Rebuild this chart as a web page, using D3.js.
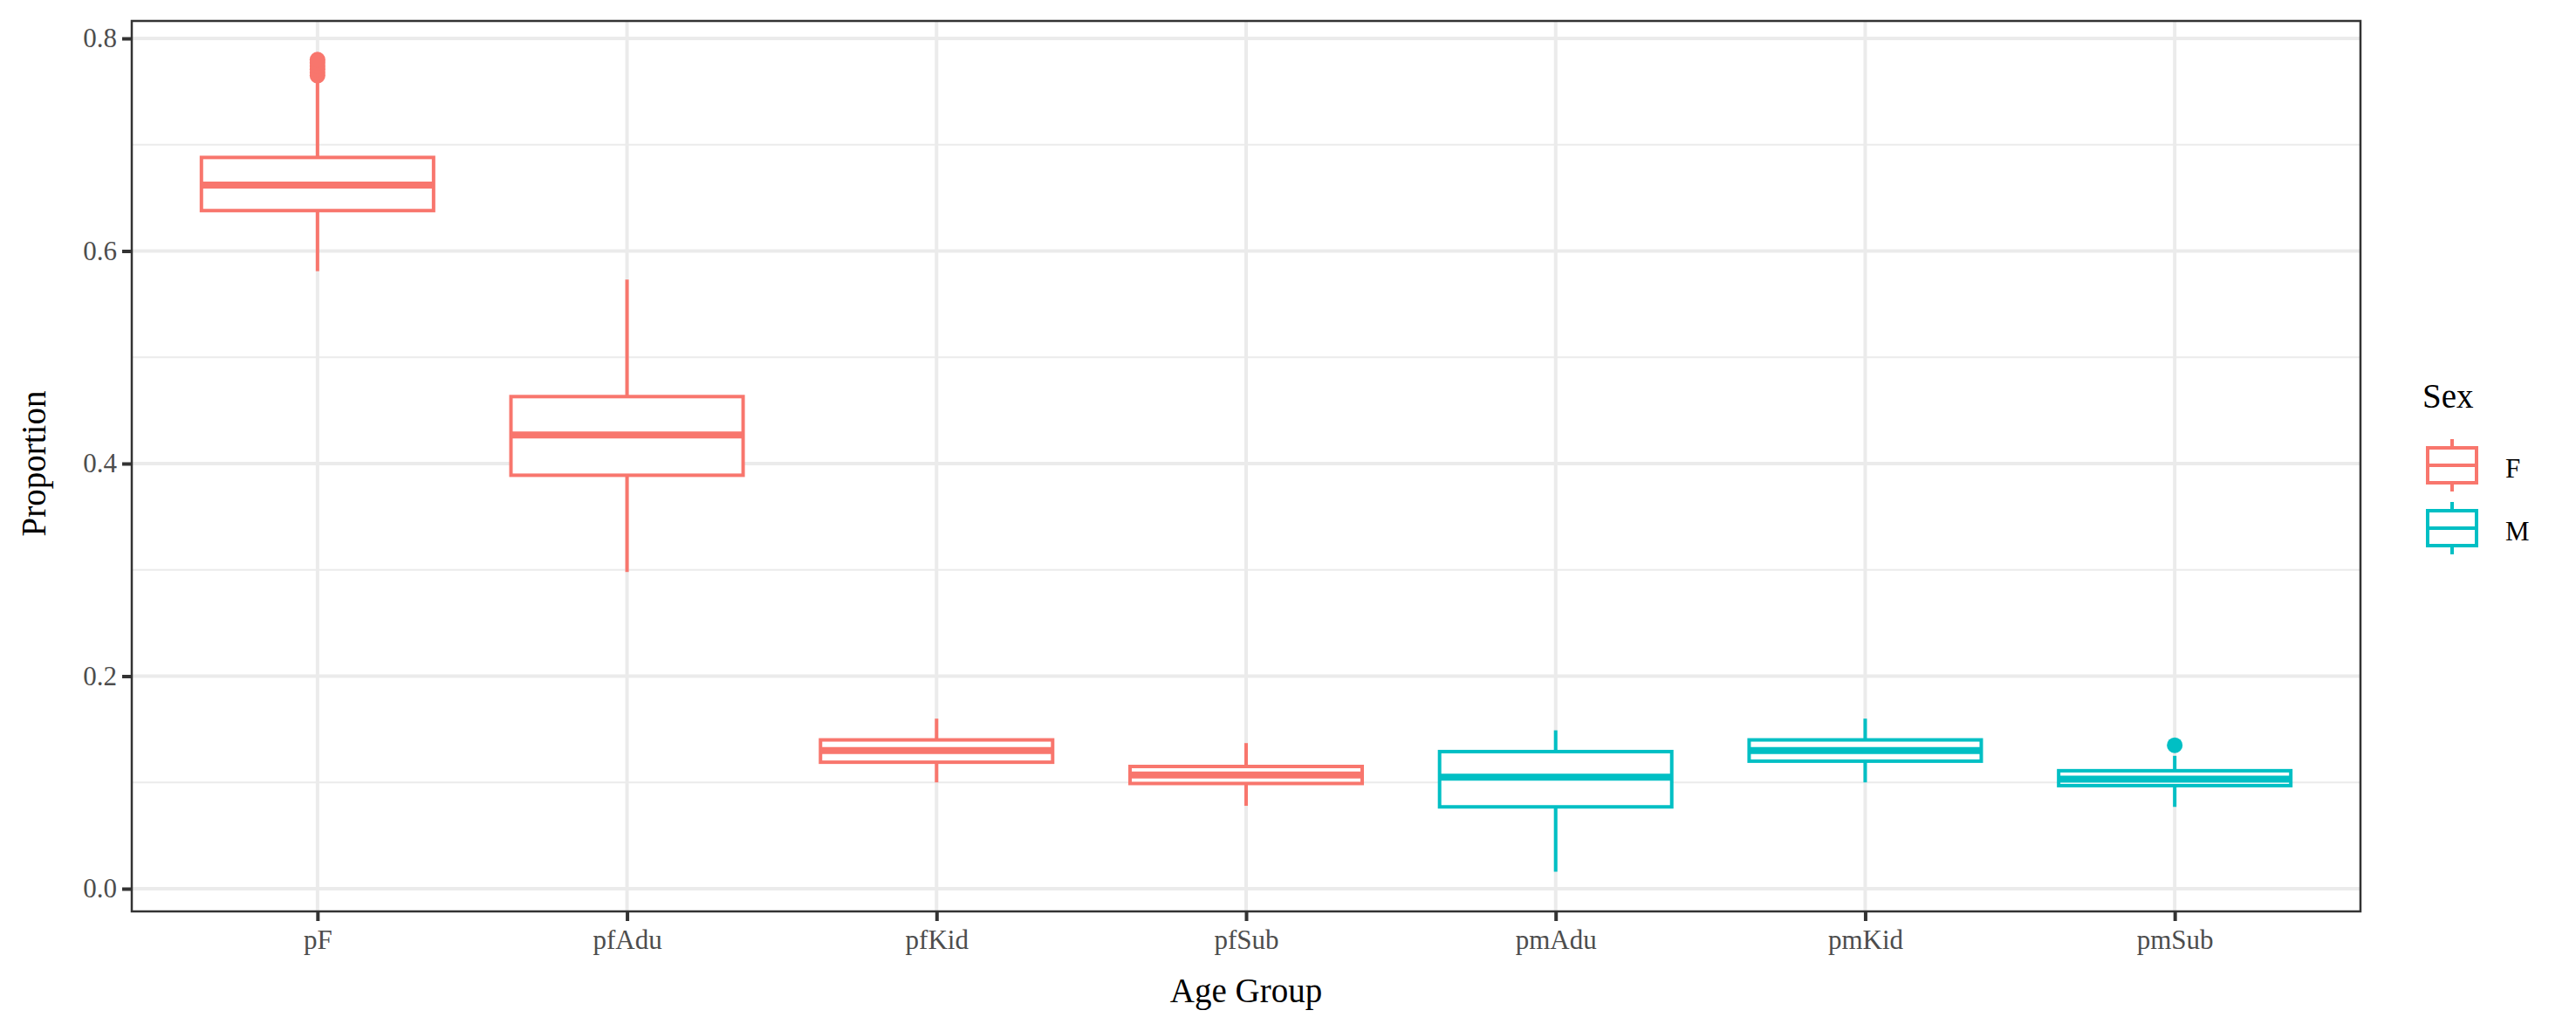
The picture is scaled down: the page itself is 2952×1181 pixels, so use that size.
<!DOCTYPE html>
<html><head><meta charset="utf-8">
<script src="https://cdn.jsdelivr.net/npm/d3@7"></script>
<style>body{margin:0;background:#fff}text{font-family:"Liberation Serif",serif}</style>
</head><body><svg id="c" width="2952" height="1181"></svg>
<script>
const groups = ["pF", "pfAdu", "pfKid", "pfSub", "pmAdu", "pmKid", "pmSub"];
const sex = ["F", "F", "F", "F", "M", "M", "M"];
const lowerWhisker = [0.581, 0.298, 0.100, 0.078, 0.016, 0.100, 0.077];
const q1 = [0.638, 0.389, 0.119, 0.099, 0.077, 0.120, 0.097];
const median = [0.662, 0.427, 0.130, 0.107, 0.105, 0.130, 0.103];
const q3 = [0.688, 0.463, 0.140, 0.115, 0.129, 0.140, 0.111];
const upperWhisker = [0.762, 0.573, 0.160, 0.137, 0.149, 0.160, 0.125];
const outliers = [[0.765, 0.768, 0.771, 0.774, 0.777, 0.780], [], [], [], [], [], [0.135]];
const yTicks = [0, 0.2, 0.4, 0.6, 0.8];
const yMinor = [0.1, 0.3, 0.5, 0.7];

const colors = { F: "#F8766D", M: "#00BFC4" };
const L = 151, R = 2705, T = 24, B = 1044;
const svg = d3.select("#c");

const x = d3.scaleBand().domain(groups).range([L, R]).paddingOuter(0.1).paddingInner(0); // approx ggplot expansion
// ggplot: 0.6 units each side for discrete
const step = (R - L) / (groups.length - 1 + 1.2);
const xc = g => L + step * (0.6 + groups.indexOf(g));
const y = d3.scaleLinear().domain([0, 0.8]).range([1018, 44]);
const bw = step * 0.75;

// grid
svg.selectAll(".ymin").data(yMinor).join("line")
  .attr("x1", L).attr("x2", R).attr("y1", d => y(d)).attr("y2", d => y(d))
  .attr("stroke", "#ebebeb").attr("stroke-width", 2);
svg.selectAll(".ymaj").data(yTicks).join("line")
  .attr("x1", L).attr("x2", R).attr("y1", d => y(d)).attr("y2", d => y(d))
  .attr("stroke", "#ebebeb").attr("stroke-width", 4);
svg.selectAll(".xmaj").data(groups).join("line")
  .attr("x1", d => xc(d)).attr("x2", d => xc(d)).attr("y1", T).attr("y2", B)
  .attr("stroke", "#ebebeb").attr("stroke-width", 4);

// boxes
const g = svg.selectAll(".box").data(groups).join("g")
  .attr("stroke", (d, i) => colors[sex[i]]).attr("fill", "none");
g.append("line").attr("x1", d => xc(d)).attr("x2", d => xc(d))
  .attr("y1", (d, i) => y(q3[i])).attr("y2", (d, i) => y(upperWhisker[i])).attr("stroke-width", 4);
g.append("line").attr("x1", d => xc(d)).attr("x2", d => xc(d))
  .attr("y1", (d, i) => y(q1[i])).attr("y2", (d, i) => y(lowerWhisker[i])).attr("stroke-width", 4);
g.append("rect").attr("x", d => xc(d) - bw / 2).attr("width", bw)
  .attr("y", (d, i) => y(q3[i])).attr("height", (d, i) => y(q1[i]) - y(q3[i]))
  .attr("fill", "#fff").attr("stroke-width", 4);
g.append("line").attr("x1", d => xc(d) - bw / 2).attr("x2", d => xc(d) + bw / 2)
  .attr("y1", (d, i) => y(median[i])).attr("y2", (d, i) => y(median[i])).attr("stroke-width", 8);
g.each(function (d, i) {
  d3.select(this).selectAll("circle").data(outliers[i]).join("circle")
    .attr("cx", xc(d)).attr("cy", v => y(v)).attr("r", 9)
    .attr("fill", colors[sex[i]]).attr("stroke", "none");
});

// panel border
svg.append("rect").attr("x", L).attr("y", T).attr("width", R - L).attr("height", B - T)
  .attr("fill", "none").attr("stroke", "#333").attr("stroke-width", 2.5);

// axes
const yAxis = d3.axisLeft(y).tickValues(yTicks).tickFormat(d3.format(".1f")).tickSize(11).tickPadding(6);
const ya = svg.append("g").attr("transform", `translate(${L},0)`).call(yAxis);
const xa = svg.append("g").attr("transform", `translate(0,${B})`)
  .call(d3.axisBottom(d3.scalePoint().domain(groups).range([xc(groups[0]), xc(groups[6])])).tickSize(11).tickPadding(10));
[ya, xa].forEach(a => {
  a.select(".domain").remove();
  a.selectAll(".tick line").attr("stroke", "#333").attr("stroke-width", 4);
  a.selectAll("text").attr("fill", "#4d4d4d").attr("font-size", 31).attr("font-family", "Liberation Serif");
});

svg.append("text").attr("x", (L + R) / 2).attr("y", 1148).attr("text-anchor", "middle")
  .attr("font-size", 39).text("Age Group");
svg.append("text").attr("transform", "translate(52,531) rotate(-90)").attr("text-anchor", "middle")
  .attr("font-size", 39).text("Proportion");

// legend
svg.append("text").attr("x", 2776).attr("y", 467).attr("font-size", 39).text("Sex");
["F", "M"].forEach((s, i) => {
  const oy = 513 + i * 72;
  const lg = svg.append("g").attr("stroke", colors[s]).attr("fill", "none").attr("stroke-width", 4);
  lg.append("line").attr("x1", 2810).attr("x2", 2810).attr("y1", oy - 10).attr("y2", oy + 50);
  lg.append("rect").attr("x", 2782).attr("y", oy).attr("width", 56).attr("height", 40).attr("fill", "#fff");
  lg.append("line").attr("x1", 2782).attr("x2", 2838).attr("y1", oy + 20).attr("y2", oy + 20);
  svg.append("text").attr("x", 2871).attr("y", oy + 34).attr("font-size", 31).text(s);
});
</script></body></html>
